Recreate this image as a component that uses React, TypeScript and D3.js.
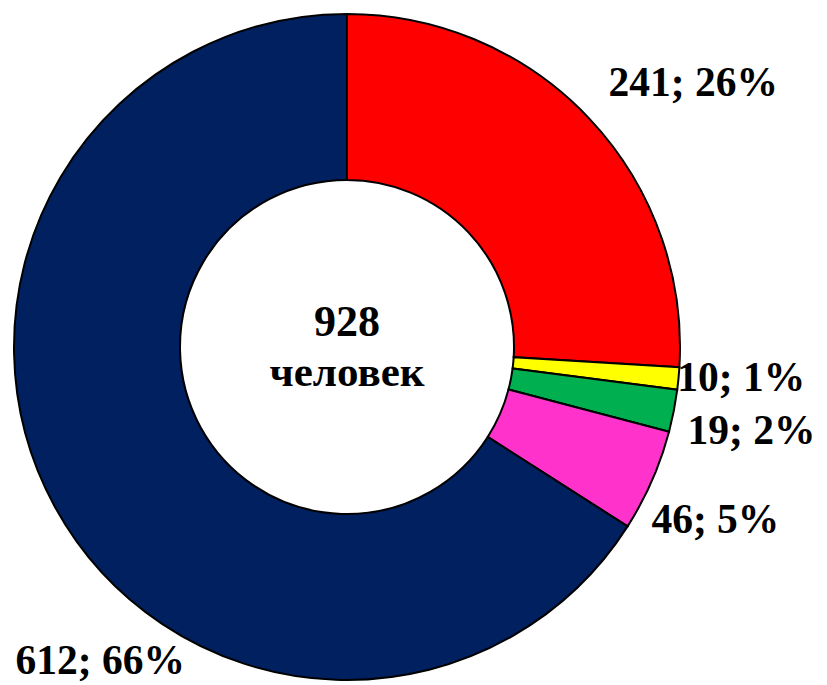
import React from 'react';
import * as d3 from 'd3';

const categories = ['a', 'b', 'c', 'd', 'e'];
const values = [241, 10, 19, 46, 612];
const percents = [26, 1, 2, 5, 66];
const colors = ['#FF0000', '#FFFF00', '#00B050', '#FF33CC', '#002060'];
const totalLabel = '928';
const unitLabel = 'человек';

const App: React.FC = () => {
  const width = 827;
  const height = 685;
  const cx = 347;
  const cy = 347;
  const outer = 333;
  const inner = 167;

  const pie = d3.pie<number>().sort(null).value(d => d);
  const slices = pie(values);
  const arc = d3.arc<d3.PieArcDatum<number>>().innerRadius(inner).outerRadius(outer);
  const labelArc = d3.arc<d3.PieArcDatum<number>>().innerRadius(400).outerRadius(400);

  // hand nudges so labels sit where the original put them
  const nudges: [number, number][] = [
    [55, 9],
    [-4, -8],
    [12, 6],
    [2, 11],
    [104, 121],
  ];

  const font = '"Liberation Serif", "Times New Roman", serif';

  return (
    <svg
      width={width}
      height={height}
      style={{ position: 'absolute', left: 0, top: 0, background: '#fff' }}
    >
      <g transform={`translate(${cx},${cy})`}>
        {slices.map((s, i) => (
          <path key={categories[i]} d={arc(s) || ''} fill={colors[i]} stroke="#000" strokeWidth={2} />
        ))}
        {slices.map((s, i) => {
          const [x, y] = labelArc.centroid(s);
          return (
            <text
              key={'l' + categories[i]}
              x={x + nudges[i][0]}
              y={y + nudges[i][1]}
              textAnchor="middle"
              dominantBaseline="central"
              fontFamily={font}
              fontWeight="bold"
              fontSize={41.5}
              fill="#000"
            >
              {`${values[i]}; ${percents[i]}%`}
            </text>
          );
        })}
        <text x={0} y={-11} textAnchor="middle" fontFamily={font} fontWeight="bold" fontSize={44}>
          {totalLabel}
        </text>
        <text x={0} y={39} textAnchor="middle" fontFamily={font} fontWeight="bold" fontSize={43}>
          {unitLabel}
        </text>
      </g>
    </svg>
  );
};

export default App;
